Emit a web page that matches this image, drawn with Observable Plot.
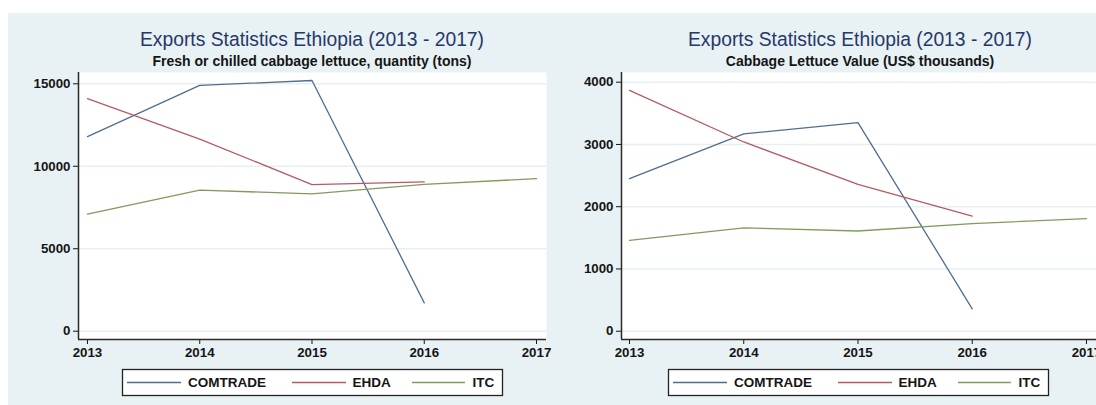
<!DOCTYPE html>
<html>
<head>
<meta charset="utf-8">
<script src="https://cdn.jsdelivr.net/npm/d3@7"></script>
<script src="https://cdn.jsdelivr.net/npm/@observablehq/plot@0.6"></script>
<style>
  html, body { margin: 0; padding: 0; background: #fff; }
  #chart { position: relative; width: 1096px; height: 405px; overflow: hidden; background: #fff;
           font-family: "Liberation Sans", Arial, Helvetica, sans-serif; }
  #bg { position: absolute; left: 8px; top: 13px; right: 0; bottom: 0; background: #e8f1f3; }
  .panel { position: absolute; top: 0; }
  #overlay { position: absolute; left: 0; top: 0; pointer-events: none; }
</style>
</head>
<body>
<div id="chart"><div id="bg"></div></div>
<script>
// ---- data ----
const years = [2013, 2014, 2015, 2016, 2017];
const sources = ["COMTRADE", "EHDA", "ITC"];
const legendLabels = ["COMTRADE", "EHDA", "ITC"];

const comtradeQty = [11800, 14900, 15200, 1720, null];
const ehdaQty     = [14100, 11650, 8890, 9050, null];
const itcQty      = [7100, 8550, 8330, 8900, 9250];

const comtradeVal = [2450, 3170, 3350, 360, null];
const ehdaVal     = [3870, 3040, 2360, 1850, null];
const itcVal      = [1460, 1660, 1610, 1730, 1810];

const qtyTicks = [0, 5000, 10000, 15000];
const valTicks = [0, 1000, 2000, 3000, 4000];

const mainTitle = "Exports Statistics Ethiopia (2013 - 2017)";
const qtySubtitle = "Fresh or chilled cabbage lettuce, quantity (tons)";
const valSubtitle = "Cabbage Lettuce Value (US$ thousands)";

// ---- styling ----
const colors = ["#506d8f", "#b55a62", "#7f9c5c"];
const gridColor = "#e6eff2";
const axisColor = "#2a2a2a";
const fontFamily = '"Liberation Sans", Arial, Helvetica, sans-serif';

function table(series) {
  const rows = [];
  series.forEach((vals, i) => {
    vals.forEach((v, j) => {
      if (v != null) rows.push({ year: years[j], value: v, source: sources[i] });
    });
  });
  return rows;
}

function panel({ data, yDomain, yTicks, xDomain, width, marginLeft, marginRight }) {
  return Plot.plot({
    width,
    height: 405,
    marginTop: 72,
    marginBottom: 66,
    marginLeft,
    marginRight,
    style: {
      background: "transparent",
      fontFamily,
      fontSize: "13.3px",
      fontWeight: "bold",
      color: "#151515",
      overflow: "visible"
    },
    x: { domain: xDomain, ticks: years, tickFormat: d => String(d), tickSize: 5, tickPadding: 3, label: null },
    y: { domain: yDomain, ticks: yTicks, tickFormat: d => String(d), tickSize: 5, tickPadding: 3, label: null },
    color: { domain: sources, range: colors },
    marks: [
      Plot.frame({ fill: "white", stroke: null }),
      Plot.ruleY(yTicks, { stroke: gridColor, strokeWidth: 1.6 }),
      Plot.line(data, { x: "year", y: "value", z: "source", stroke: "source", strokeWidth: 1.3 }),
      Plot.ruleX([xDomain[0]], { stroke: axisColor, strokeWidth: 1.5 }),
      Plot.ruleY([yDomain[0]], { stroke: axisColor, strokeWidth: 1.5 })
    ]
  });
}

const chart = document.getElementById("chart");

const left = panel({
  data: table([comtradeQty, ehdaQty, itcQty]),
  yDomain: [-503, 15685],
  yTicks: qtyTicks,
  xDomain: [2012.92, 2017.089],
  width: 560,
  marginLeft: 78,
  marginRight: 14
});
left.classList.add("panel");
left.style.left = "0px";
chart.appendChild(left);

const right = panel({
  data: table([comtradeVal, ehdaVal, itcVal]),
  yDomain: [-133, 4156],
  yTicks: valTicks,
  xDomain: [2012.93, 2017.114],
  width: 540,
  marginLeft: 61,
  marginRight: 1
});
right.classList.add("panel");
right.style.left = "560px";
chart.appendChild(right);

// ---- titles and legends ----
const svg = d3.select(chart).append("svg")
  .attr("id", "overlay")
  .attr("width", 1096).attr("height", 405)
  .style("font-family", fontFamily);

function titles(cx, sub) {
  svg.append("text").attr("x", cx).attr("y", 46).attr("text-anchor", "middle")
    .attr("font-size", 19.3).attr("fill", "#27386a").text(mainTitle);
  svg.append("text").attr("x", cx).attr("y", 66).attr("text-anchor", "middle")
    .attr("font-size", 14).attr("font-weight", "bold").attr("fill", "#151515").text(sub);
}
titles(312, qtySubtitle);
titles(860, valSubtitle);

function legend(x0) {
  const g = svg.append("g").attr("transform", `translate(${x0},369)`);
  g.append("rect").attr("x", 0.5).attr("y", 0.5).attr("width", 380).attr("height", 26)
    .attr("fill", "white").attr("stroke", "#222").attr("stroke-width", 1.3);
  const items = [
    { l1: 5, l2: 59, tx: 66 },
    { l1: 170, l2: 224, tx: 230.5 },
    { l1: 290, l2: 343, tx: 350.5 }
  ];
  items.forEach((it, i) => {
    g.append("line").attr("x1", it.l1).attr("x2", it.l2).attr("y1", 13.5).attr("y2", 13.5)
      .attr("stroke", colors[i]).attr("stroke-width", 1.5);
    g.append("text").attr("x", it.tx).attr("y", 18.3).attr("font-size", 13.5)
      .attr("font-weight", "bold").attr("fill", "#151515").text(legendLabels[i]);
  });
}
legend(122);
legend(668);
</script>
</body>
</html>
